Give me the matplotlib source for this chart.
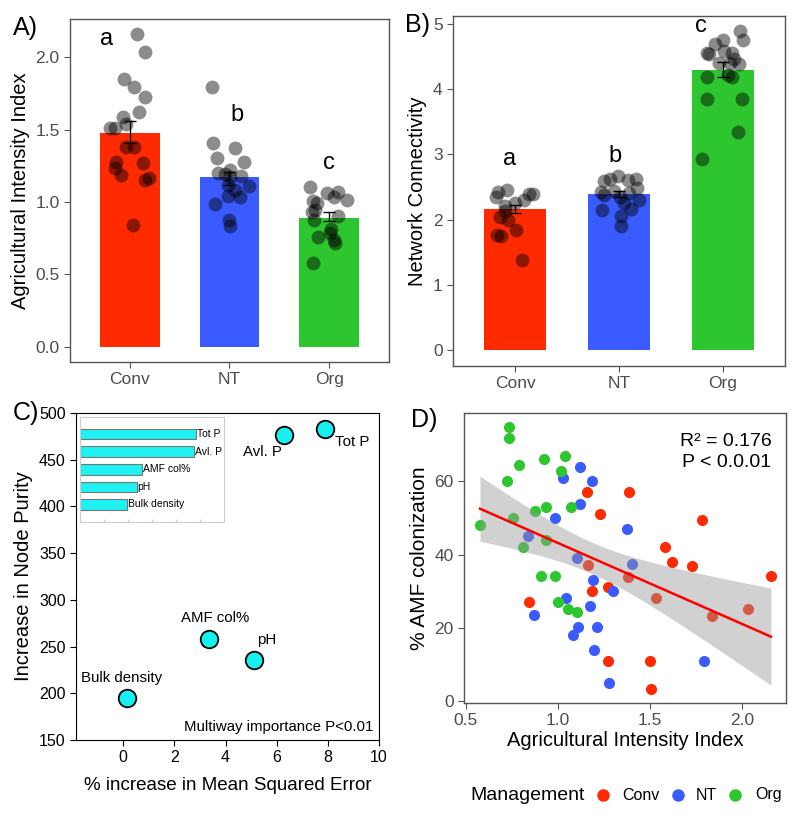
import numpy as np
import matplotlib
matplotlib.use("Agg")
import matplotlib.pyplot as plt
from matplotlib.lines import Line2D

plt.rcParams['font.family'] = ['Liberation Sans', 'DejaVu Sans']

# ---------------- data ----------------
groups = ["Conv", "NT", "Org"]
group_colors = ["#FF2A00", "#3A5BFF", "#2EC62E"]

# panel A: agricultural intensity index
ai_mean = [1.48, 1.17, 0.89]
ai_lo = [1.41, 1.12, 0.87]
ai_hi = [1.56, 1.21, 0.93]
ai_letters = ["a", "b", "c"]
ai_conv_x = [1.077, 1.153, 0.943, 1.047, 1.15, 1.09, 0.93, 0.963, 0.85, 0.803,
             0.96, 1.047, 0.86, 1.13, 0.853, 0.907, 1.19, 1.157, 1.027]
ai_conv_y = [2.16, 2.035, 1.848, 1.793, 1.728, 1.62, 1.585, 1.54, 1.514, 1.509,
             1.382, 1.382, 1.274, 1.27, 1.233, 1.184, 1.164, 1.152, 0.843]
ai_nt_x = [1.823, 1.83, 2.06, 1.87, 2.147, 2.003, 1.88, 1.953, 2.12, 2.01,
           1.98, 2.193, 2.06, 1.98, 2.107, 1.85, 2.0, 2.003]
ai_nt_y = [1.793, 1.406, 1.376, 1.302, 1.279, 1.221, 1.198, 1.194, 1.182, 1.175,
           1.118, 1.111, 1.083, 1.044, 1.032, 0.986, 0.876, 0.836]
ai_org_x = [2.807, 2.983, 3.093, 3.047, 3.177, 2.833, 2.877, 2.827, 2.86, 3.093,
            2.847, 3.023, 3.007, 2.887, 3.05, 3.06, 2.833]
ai_org_y = [1.104, 1.06, 1.071, 1.037, 1.014, 1.005, 0.991, 0.931, 0.945, 0.903,
            0.876, 0.811, 0.783, 0.756, 0.737, 0.719, 0.576]

# panel B: network connectivity
nc_mean = [2.17, 2.39, 4.30]
nc_lo = [2.10, 2.35, 4.19]
nc_hi = [2.23, 2.44, 4.42]
nc_letters = ["a", "b", "c"]
nc_conv_x = [0.835, 0.918, 0.81, 1.082, 1.137, 1.169, 0.995, 0.906, 0.899, 0.855,
             0.934, 1.012, 0.826, 0.867, 1.066]
nc_conv_y = [2.423, 2.459, 2.347, 2.306, 2.398, 2.398, 2.255, 2.209, 2.133, 2.04,
             2.0, 1.837, 1.76, 1.745, 1.378]
nc_nt_x = [1.859, 1.914, 1.994, 2.084, 2.165, 2.174, 1.824, 1.949, 2.1, 1.853,
           2.011, 2.19, 2.052, 1.833, 2.117, 2.02, 2.02]
nc_nt_y = [2.592, 2.617, 2.668, 2.602, 2.628, 2.485, 2.423, 2.439, 2.408, 2.372,
           2.347, 2.296, 2.26, 2.153, 2.168, 2.051, 1.898]
nc_org_x = [3.166, 3.192, 2.929, 3.006, 3.015, 2.852, 2.864, 3.09, 3.112, 2.961,
            3.16, 3.07, 3.05, 3.09, 2.845, 2.845, 3.186, 3.147, 2.797]
nc_org_y = [4.883, 4.745, 4.694, 4.76, 4.582, 4.561, 4.531, 4.551, 4.459, 4.403,
            4.388, 4.403, 4.209, 4.179, 4.184, 3.852, 3.852, 3.337, 2.929]

# panel C: random forest importance
vars_c = ["Tot P", "Avl. P", "AMF col%", "pH", "Bulk density"]
inc_mse = [7.9, 6.27, 3.34, 5.13, 0.16]
node_purity = [483, 476, 258, 236, 195]

# panel D: AMF colonization vs agricultural intensity
d_org_x = [0.737, 0.734, 0.787, 0.725, 0.924, 1.037, 1.016, 1.069, 0.937, 0.877,
           0.577, 0.759, 0.809, 0.937, 0.908, 0.985, 1.003, 1.055, 1.105]
d_org_y = [74.9, 71.9, 64.3, 60.0, 66.0, 67.0, 62.9, 52.9, 52.9, 52.0,
           48.0, 50.0, 42.1, 43.9, 34.1, 34.1, 27.1, 25.1, 24.2]
d_nt_x = [1.123, 1.03, 1.184, 1.118, 0.985, 1.375, 0.838, 1.105, 1.405, 1.19,
          1.298, 1.044, 1.177, 0.868, 1.107, 1.215, 1.082, 1.197, 1.792, 1.278]
d_nt_y = [64.0, 60.9, 60.0, 53.8, 50.0, 46.9, 45.0, 39.1, 37.3, 33.0,
          30.0, 28.1, 26.0, 23.4, 20.1, 20.1, 18.1, 14.0, 11.0, 5.0]
d_conv_x = [1.156, 1.386, 1.231, 1.786, 1.583, 1.619, 1.727, 2.158, 1.165, 1.38,
            1.184, 1.271, 1.533, 0.843, 2.034, 1.84, 1.272, 1.501, 1.505]
d_conv_y = [57.0, 57.0, 51.0, 49.4, 42.1, 38.0, 36.9, 34.1, 37.1, 33.9,
            30.0, 31.2, 28.1, 27.1, 25.1, 23.1, 11.0, 11.0, 3.2]
# fitted line
fit_slope = -22.07
fit_icept = 65.23

W, H = 800, 819
fig = plt.figure(figsize=(W / 100, H / 100), dpi=100)


def px_axes(x0, y0, x1, y1):
    return fig.add_axes([x0 / W, 1 - y1 / H, (x1 - x0) / W, (y1 - y0) / H])


def gg_style(ax, size=12.5):
    for s in ax.spines.values():
        s.set_color("#555555")
        s.set_linewidth(1.0)
    ax.tick_params(colors="#555555", labelcolor="#4D4D4D", labelsize=size, length=4)


def bar_panel(ax, means, lo, hi, letters, pts, ylabel, letter_pos):
    xs = np.arange(1, 4)
    ax.bar(xs, means, width=0.6, color=group_colors, zorder=1)
    for (px, py) in pts:
        ax.scatter(px, py, s=100, color="black", alpha=0.45, linewidths=0, zorder=2)
    ax.errorbar(xs, means, yerr=[np.array(means) - np.array(lo), np.array(hi) - np.array(means)],
                fmt="none", ecolor="black", elinewidth=1, capsize=4, zorder=3)
    for lab, (lx, ly) in zip(letters, letter_pos):
        ax.text(lx, ly, lab, fontsize=17, ha="center", va="center")
    ax.set_xlim(0.4, 3.6)
    ax.set_xticks(xs)
    ax.set_xticklabels(groups)
    ax.set_ylabel(ylabel, fontsize=14.5)
    gg_style(ax)


# ---- A ----
axA = px_axes(70, 19, 389, 362)
bar_panel(axA, ai_mean, ai_lo, ai_hi, ai_letters,
          [(ai_conv_x, ai_conv_y), (ai_nt_x, ai_nt_y), (ai_org_x, ai_org_y)],
          "Agricultural Intensity Index", [(0.77, 2.13), (2.08, 1.60), (3.0, 1.27)])
axA.set_ylim(-0.105, 2.265)
axA.set_yticks([0, 0.5, 1.0, 1.5, 2.0])
axA.set_yticklabels(["0.0", "0.5", "1.0", "1.5", "2.0"])
fig.text(13 / W, 1 - 28 / H, "A)", fontsize=18, va="center")

# ---- B ----
axB = px_axes(453, 16, 785, 366)
bar_panel(axB, nc_mean, nc_lo, nc_hi, nc_letters,
          [(nc_conv_x, nc_conv_y), (nc_nt_x, nc_nt_y), (nc_org_x, nc_org_y)],
          "Network Connectivity", [(0.95, 2.93), (1.96, 2.97), (2.79, 4.97)])
axB.set_ylim(-0.24, 5.12)
axB.set_yticks([0, 1, 2, 3, 4, 5])
fig.text(405 / W, 1 - 25 / H, "B)", fontsize=18, va="center")

# ---- C ----
axC = px_axes(76, 413, 379, 740)
axC.scatter(inc_mse, node_purity, s=160, color="#16F0F0", edgecolors="black", linewidths=1.3, zorder=3)
axC.set_xlim(-1.85, 10)
axC.set_ylim(150, 500)
axC.set_xticks([0, 2, 4, 6, 8, 10])
axC.set_yticks(range(150, 501, 50))
axC.tick_params(labelsize=11.5, length=4)
axC.set_xlabel("% increase in Mean Squared Error", fontsize=13.5, labelpad=8)
axC.set_ylabel("Increase in Node Purity", fontsize=14.5)
lab_off = {"Tot P": (8.29, 469, "left"), "Avl. P": (6.2, 458, "right"),
           "AMF col%": (3.6, 281, "center"), "pH": (5.62, 257, "center"),
           "Bulk density": (-0.06, 216, "center")}
for v in vars_c:
    lx, ly, ha = lab_off[v]
    axC.text(lx, ly, v, fontsize=10.8, ha=ha, va="center")
axC.text(9.77, 164, "Multiway importance P<0.01", fontsize=10.8, ha="right", va="center")
fig.text(13 / W, 1 - 413 / H, "C)", fontsize=18, va="center")

axIn = px_axes(80, 417, 224, 522)
pos = np.arange(len(vars_c), 0, -1)
axIn.barh(pos, node_purity, height=0.6, left=0, color="#1EF2F2", edgecolor="#777777", linewidth=0.8)
for p, val, v in zip(pos, node_purity, vars_c):
    axIn.text(val + 4, p, v, fontsize=7.5, va="center", ha="left")
axIn.set_xlim(0, 601)
axIn.set_ylim(0, 5.98)
axIn.set_yticks([])
axIn.set_xticks([100, 200, 300, 400, 500])
axIn.tick_params(axis="x", direction="in", length=2, labelbottom=False, color="#cccccc")
for s in axIn.spines.values():
    s.set_color("#cccccc")

# ---- D ----
axD = px_axes(464, 413, 786, 703)
for xs_, ys_, c in [(d_conv_x, d_conv_y, group_colors[0]), (d_nt_x, d_nt_y, group_colors[1]),
                    (d_org_x, d_org_y, group_colors[2])]:
    axD.scatter(xs_, ys_, s=64, color=c, linewidths=0, zorder=2)

allx = np.array(d_conv_x + d_nt_x + d_org_x)
ally = np.array(d_conv_y + d_nt_y + d_org_y)
n = len(allx)
resid = ally - (fit_slope * allx + fit_icept)
s_err = np.sqrt(np.sum(resid ** 2) / (n - 2))
xg = np.linspace(allx.min(), allx.max(), 100)
yg = fit_slope * xg + fit_icept
se_fit = s_err * np.sqrt(1 / n + (xg - allx.mean()) ** 2 / np.sum((allx - allx.mean()) ** 2))
t_val = 2.003
axD.fill_between(xg, yg - t_val * se_fit, yg + t_val * se_fit, color="#999999", alpha=0.45,
                 linewidth=0, zorder=3)
axD.plot(xg, yg, color="red", linewidth=1.8, zorder=4)
axD.set_xlim(0.49, 2.24)
axD.set_ylim(-0.5, 78.6)
axD.set_xticks([0.5, 1.0, 1.5, 2.0])
axD.set_yticks([0, 20, 40, 60])
axD.set_xlabel("Agricultural Intensity Index", fontsize=14.5, labelpad=2)
axD.set_ylabel("% AMF colonization", fontsize=15)
gg_style(axD)
axD.text(0.955, 0.93, "R\u00b2 = 0.176\nP < 0.0.01", transform=axD.transAxes, fontsize=14,
         ha="right", va="top", linespacing=1.3)
fig.text(411 / W, 1 - 420 / H, "D)", fontsize=18, va="center")

# legend at bottom, drawn by hand
leg_y = 1 - 795 / H
fig.text(470 / W, leg_y, "Management", fontsize=14, va="center")
leg_dot_x = [603, 678, 735]
leg_txt_x = [622, 696, 755]
for c, g, dx, tx in zip(group_colors, groups, leg_dot_x, leg_txt_x):
    fig.add_artist(Line2D([dx / W], [leg_y], transform=fig.transFigure, marker="o",
                          linestyle="", color=c, markersize=8))
    fig.text(tx / W, leg_y, g, fontsize=11.5, va="center")

fig.savefig("out.png", dpi=100)
